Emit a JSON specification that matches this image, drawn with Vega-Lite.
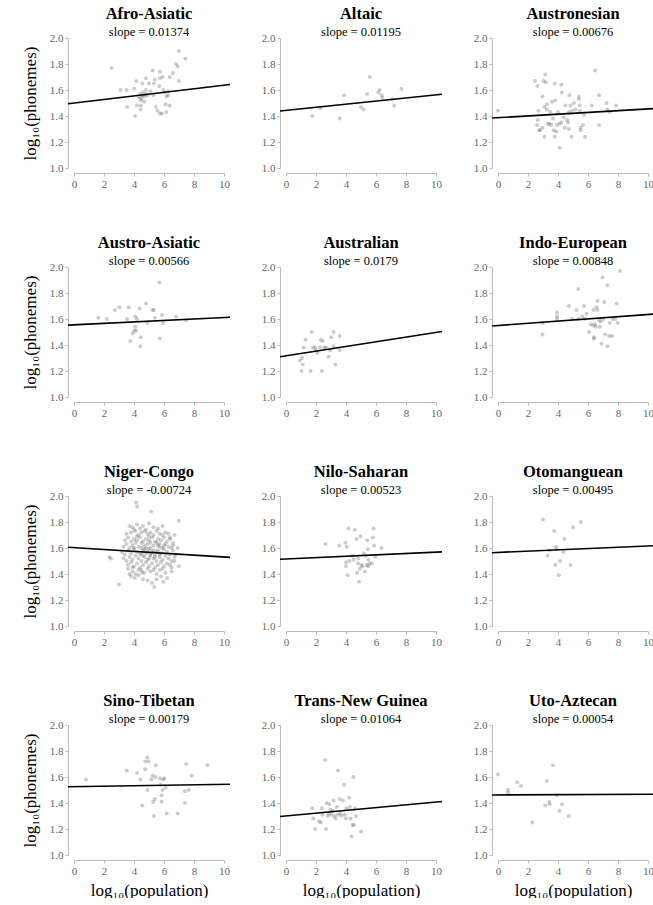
{
"$schema":"https://vega.github.io/schema/vega-lite/v6.json",
"padding":{"left":21,"top":6,"right":0,"bottom":0},
"datasets":{
"fit":[
{"f":"Afro-Asiatic","x":-0.4,"y":1.4945},{"f":"Afro-Asiatic","x":10.4,"y":1.6429},
{"f":"Altaic","x":-0.4,"y":1.4382},{"f":"Altaic","x":10.4,"y":1.5673},
{"f":"Austronesian","x":-0.4,"y":1.3843},{"f":"Austronesian","x":10.4,"y":1.4573},
{"f":"Austro-Asiatic","x":-0.4,"y":1.5527},{"f":"Austro-Asiatic","x":10.4,"y":1.6139},
{"f":"Australian","x":-0.4,"y":1.3098},{"f":"Australian","x":10.4,"y":1.5032},
{"f":"Indo-European","x":-0.4,"y":1.5466},{"f":"Indo-European","x":10.4,"y":1.6382},
{"f":"Niger-Congo","x":-0.4,"y":1.6059},{"f":"Niger-Congo","x":10.4,"y":1.5277},
{"f":"Nilo-Saharan","x":-0.4,"y":1.5139},{"f":"Nilo-Saharan","x":10.4,"y":1.5704},
{"f":"Otomanguean","x":-0.4,"y":1.564},{"f":"Otomanguean","x":10.4,"y":1.6175},
{"f":"Sino-Tibetan","x":-0.4,"y":1.5253},{"f":"Sino-Tibetan","x":10.4,"y":1.5446},
{"f":"Trans-New Guinea","x":-0.4,"y":1.2967},{"f":"Trans-New Guinea","x":10.4,"y":1.4117},
{"f":"Uto-Aztecan","x":-0.4,"y":1.4618},{"f":"Uto-Aztecan","x":10.4,"y":1.4676}
],
"pts":[
{"f":"Afro-Asiatic","x":2.5,"y":1.77},{"f":"Afro-Asiatic","x":3.1,"y":1.6},{"f":"Afro-Asiatic","x":3.5,"y":1.6},{"f":"Afro-Asiatic","x":3.54,"y":1.47},{"f":"Afro-Asiatic","x":4.0,"y":1.61},{"f":"Afro-Asiatic","x":4.15,"y":1.67},{"f":"Afro-Asiatic","x":4.19,"y":1.48},{"f":"Afro-Asiatic","x":4.08,"y":1.4},{"f":"Afro-Asiatic","x":4.45,"y":1.48},{"f":"Afro-Asiatic","x":4.45,"y":1.45},{"f":"Afro-Asiatic","x":4.56,"y":1.65},{"f":"Afro-Asiatic","x":4.8,"y":1.69},{"f":"Afro-Asiatic","x":4.8,"y":1.6},{"f":"Afro-Asiatic","x":5.0,"y":1.65},{"f":"Afro-Asiatic","x":5.24,"y":1.75},{"f":"Afro-Asiatic","x":5.33,"y":1.65},{"f":"Afro-Asiatic","x":5.39,"y":1.68},{"f":"Afro-Asiatic","x":5.72,"y":1.74},{"f":"Afro-Asiatic","x":5.46,"y":1.47},{"f":"Afro-Asiatic","x":5.68,"y":1.63},{"f":"Afro-Asiatic","x":5.72,"y":1.69},{"f":"Afro-Asiatic","x":5.9,"y":1.7},{"f":"Afro-Asiatic","x":5.57,"y":1.44},{"f":"Afro-Asiatic","x":5.72,"y":1.42},{"f":"Afro-Asiatic","x":5.87,"y":1.42},{"f":"Afro-Asiatic","x":6.16,"y":1.55},{"f":"Afro-Asiatic","x":6.16,"y":1.43},{"f":"Afro-Asiatic","x":6.38,"y":1.7},{"f":"Afro-Asiatic","x":6.27,"y":1.59},{"f":"Afro-Asiatic","x":6.27,"y":1.56},{"f":"Afro-Asiatic","x":6.11,"y":1.49},{"f":"Afro-Asiatic","x":6.38,"y":1.48},{"f":"Afro-Asiatic","x":6.99,"y":1.9},{"f":"Afro-Asiatic","x":6.81,"y":1.8},{"f":"Afro-Asiatic","x":6.92,"y":1.78},{"f":"Afro-Asiatic","x":6.99,"y":1.67},{"f":"Afro-Asiatic","x":7.42,"y":1.84},{"f":"Afro-Asiatic","x":6.59,"y":1.73},{"f":"Afro-Asiatic","x":4.3,"y":1.55},{"f":"Afro-Asiatic","x":4.4,"y":1.57},{"f":"Afro-Asiatic","x":4.5,"y":1.54},{"f":"Afro-Asiatic","x":4.6,"y":1.56},{"f":"Afro-Asiatic","x":4.5,"y":1.52},{"f":"Afro-Asiatic","x":4.7,"y":1.55},{"f":"Afro-Asiatic","x":4.8,"y":1.57},{"f":"Afro-Asiatic","x":4.6,"y":1.58},{"f":"Afro-Asiatic","x":4.4,"y":1.53},{"f":"Afro-Asiatic","x":4.9,"y":1.56},{"f":"Afro-Asiatic","x":4.7,"y":1.51},{"f":"Afro-Asiatic","x":5.94,"y":1.6},{"f":"Afro-Asiatic","x":6.05,"y":1.58},{"f":"Afro-Asiatic","x":5.1,"y":1.59},{"f":"Afro-Asiatic","x":5.3,"y":1.56},
{"f":"Altaic","x":1.75,"y":1.4},{"f":"Altaic","x":2.3,"y":1.46},{"f":"Altaic","x":3.58,"y":1.38},{"f":"Altaic","x":3.87,"y":1.56},{"f":"Altaic","x":4.99,"y":1.47},{"f":"Altaic","x":5.17,"y":1.45},{"f":"Altaic","x":5.4,"y":1.57},{"f":"Altaic","x":5.58,"y":1.7},{"f":"Altaic","x":6.15,"y":1.58},{"f":"Altaic","x":6.24,"y":1.6},{"f":"Altaic","x":6.38,"y":1.56},{"f":"Altaic","x":6.42,"y":1.54},{"f":"Altaic","x":7.1,"y":1.53},{"f":"Altaic","x":7.22,"y":1.48},{"f":"Altaic","x":7.7,"y":1.61},
{"f":"Austronesian","x":0,"y":1.44},{"f":"Austronesian","x":2.47,"y":1.67},{"f":"Austronesian","x":2.63,"y":1.63},{"f":"Austronesian","x":2.7,"y":1.44},{"f":"Austronesian","x":2.65,"y":1.37},{"f":"Austronesian","x":2.61,"y":1.33},{"f":"Austronesian","x":2.81,"y":1.29},{"f":"Austronesian","x":2.97,"y":1.55},{"f":"Austronesian","x":3.03,"y":1.67},{"f":"Austronesian","x":3.19,"y":1.66},{"f":"Austronesian","x":3.15,"y":1.72},{"f":"Austronesian","x":3.1,"y":1.47},{"f":"Austronesian","x":3.26,"y":1.45},{"f":"Austronesian","x":3.1,"y":1.24},{"f":"Austronesian","x":2.97,"y":1.31},{"f":"Austronesian","x":3.26,"y":1.49},{"f":"Austronesian","x":3.33,"y":1.34},{"f":"Austronesian","x":3.42,"y":1.34},{"f":"Austronesian","x":3.55,"y":1.33},{"f":"Austronesian","x":3.48,"y":1.43},{"f":"Austronesian","x":3.66,"y":1.38},{"f":"Austronesian","x":3.71,"y":1.29},{"f":"Austronesian","x":3.78,"y":1.65},{"f":"Austronesian","x":3.82,"y":1.52},{"f":"Austronesian","x":3.78,"y":1.24},{"f":"Austronesian","x":3.87,"y":1.28},{"f":"Austronesian","x":3.93,"y":1.33},{"f":"Austronesian","x":4.0,"y":1.43},{"f":"Austronesian","x":4.09,"y":1.34},{"f":"Austronesian","x":4.11,"y":1.155},{"f":"Austronesian","x":4.22,"y":1.64},{"f":"Austronesian","x":4.27,"y":1.58},{"f":"Austronesian","x":4.38,"y":1.39},{"f":"Austronesian","x":4.45,"y":1.31},{"f":"Austronesian","x":4.49,"y":1.48},{"f":"Austronesian","x":4.61,"y":1.37},{"f":"Austronesian","x":4.67,"y":1.35},{"f":"Austronesian","x":4.72,"y":1.43},{"f":"Austronesian","x":4.76,"y":1.56},{"f":"Austronesian","x":4.83,"y":1.48},{"f":"Austronesian","x":4.94,"y":1.44},{"f":"Austronesian","x":4.9,"y":1.24},{"f":"Austronesian","x":5.06,"y":1.5},{"f":"Austronesian","x":5.17,"y":1.45},{"f":"Austronesian","x":5.39,"y":1.55},{"f":"Austronesian","x":5.39,"y":1.53},{"f":"Austronesian","x":5.44,"y":1.48},{"f":"Austronesian","x":5.46,"y":1.44},{"f":"Austronesian","x":5.51,"y":1.31},{"f":"Austronesian","x":5.51,"y":1.29},{"f":"Austronesian","x":5.66,"y":1.33},{"f":"Austronesian","x":5.73,"y":1.41},{"f":"Austronesian","x":5.8,"y":1.24},{"f":"Austronesian","x":6.25,"y":1.48},{"f":"Austronesian","x":6.47,"y":1.75},{"f":"Austronesian","x":6.74,"y":1.56},{"f":"Austronesian","x":6.74,"y":1.33},{"f":"Austronesian","x":7.24,"y":1.5},{"f":"Austronesian","x":7.3,"y":1.45},{"f":"Austronesian","x":7.46,"y":1.43},{"f":"Austronesian","x":7.87,"y":1.48},{"f":"Austronesian","x":4.72,"y":1.3},{"f":"Austronesian","x":4.22,"y":1.35},{"f":"Austronesian","x":3.6,"y":1.51},{"f":"Austronesian","x":2.74,"y":1.29},
{"f":"Austro-Asiatic","x":1.62,"y":1.61},{"f":"Austro-Asiatic","x":2.18,"y":1.6},{"f":"Austro-Asiatic","x":2.73,"y":1.67},{"f":"Austro-Asiatic","x":3.03,"y":1.69},{"f":"Austro-Asiatic","x":3.54,"y":1.6},{"f":"Austro-Asiatic","x":3.65,"y":1.69},{"f":"Austro-Asiatic","x":3.76,"y":1.43},{"f":"Austro-Asiatic","x":3.91,"y":1.49},{"f":"Austro-Asiatic","x":4.02,"y":1.51},{"f":"Austro-Asiatic","x":4.08,"y":1.54},{"f":"Austro-Asiatic","x":4.08,"y":1.62},{"f":"Austro-Asiatic","x":4.15,"y":1.51},{"f":"Austro-Asiatic","x":4.19,"y":1.6},{"f":"Austro-Asiatic","x":4.37,"y":1.68},{"f":"Austro-Asiatic","x":4.41,"y":1.39},{"f":"Austro-Asiatic","x":4.45,"y":1.46},{"f":"Austro-Asiatic","x":4.8,"y":1.72},{"f":"Austro-Asiatic","x":4.89,"y":1.57},{"f":"Austro-Asiatic","x":5.24,"y":1.67},{"f":"Austro-Asiatic","x":5.33,"y":1.67},{"f":"Austro-Asiatic","x":5.39,"y":1.61},{"f":"Austro-Asiatic","x":5.68,"y":1.88},{"f":"Austro-Asiatic","x":5.72,"y":1.45},{"f":"Austro-Asiatic","x":5.87,"y":1.63},{"f":"Austro-Asiatic","x":5.94,"y":1.57},{"f":"Austro-Asiatic","x":6.81,"y":1.62},{"f":"Austro-Asiatic","x":7.47,"y":1.59},
{"f":"Australian","x":0.93,"y":1.28},{"f":"Australian","x":1.03,"y":1.2},{"f":"Australian","x":1.12,"y":1.25},{"f":"Australian","x":1.07,"y":1.3},{"f":"Australian","x":1.18,"y":1.38},{"f":"Australian","x":1.3,"y":1.44},{"f":"Australian","x":1.64,"y":1.2},{"f":"Australian","x":1.71,"y":1.5},{"f":"Australian","x":1.8,"y":1.38},{"f":"Australian","x":1.94,"y":1.38},{"f":"Australian","x":2.1,"y":1.34},{"f":"Australian","x":2.26,"y":1.38},{"f":"Australian","x":2.32,"y":1.44},{"f":"Australian","x":2.39,"y":1.2},{"f":"Australian","x":2.44,"y":1.43},{"f":"Australian","x":2.55,"y":1.38},{"f":"Australian","x":2.67,"y":1.38},{"f":"Australian","x":2.85,"y":1.31},{"f":"Australian","x":2.94,"y":1.36},{"f":"Australian","x":3.01,"y":1.46},{"f":"Australian","x":3.17,"y":1.5},{"f":"Australian","x":3.17,"y":1.39},{"f":"Australian","x":3.28,"y":1.25},{"f":"Australian","x":3.58,"y":1.47},{"f":"Australian","x":3.58,"y":1.36},{"f":"Australian","x":1.98,"y":1.36},
{"f":"Indo-European","x":2.97,"y":1.48},{"f":"Indo-European","x":2.97,"y":1.57},{"f":"Indo-European","x":3.93,"y":1.65},{"f":"Indo-European","x":3.93,"y":1.62},{"f":"Indo-European","x":3.93,"y":1.6},{"f":"Indo-European","x":4.72,"y":1.7},{"f":"Indo-European","x":4.94,"y":1.6},{"f":"Indo-European","x":5.24,"y":1.67},{"f":"Indo-European","x":5.35,"y":1.83},{"f":"Indo-European","x":5.35,"y":1.6},{"f":"Indo-European","x":5.62,"y":1.62},{"f":"Indo-European","x":5.73,"y":1.7},{"f":"Indo-European","x":5.8,"y":1.6},{"f":"Indo-European","x":5.91,"y":1.64},{"f":"Indo-European","x":6.07,"y":1.5},{"f":"Indo-European","x":6.18,"y":1.56},{"f":"Indo-European","x":6.34,"y":1.55},{"f":"Indo-European","x":6.36,"y":1.67},{"f":"Indo-European","x":6.4,"y":1.46},{"f":"Indo-European","x":6.4,"y":1.45},{"f":"Indo-European","x":6.47,"y":1.56},{"f":"Indo-European","x":6.52,"y":1.54},{"f":"Indo-European","x":6.56,"y":1.69},{"f":"Indo-European","x":6.63,"y":1.74},{"f":"Indo-European","x":6.63,"y":1.67},{"f":"Indo-European","x":6.74,"y":1.59},{"f":"Indo-European","x":6.79,"y":1.54},{"f":"Indo-European","x":6.85,"y":1.58},{"f":"Indo-European","x":6.9,"y":1.41},{"f":"Indo-European","x":6.97,"y":1.92},{"f":"Indo-European","x":7.01,"y":1.6},{"f":"Indo-European","x":7.08,"y":1.73},{"f":"Indo-European","x":7.15,"y":1.48},{"f":"Indo-European","x":7.3,"y":1.86},{"f":"Indo-European","x":7.3,"y":1.39},{"f":"Indo-European","x":7.42,"y":1.47},{"f":"Indo-European","x":7.46,"y":1.57},{"f":"Indo-European","x":7.6,"y":1.47},{"f":"Indo-European","x":7.64,"y":1.6},{"f":"Indo-European","x":7.82,"y":1.6},{"f":"Indo-European","x":7.91,"y":1.72},{"f":"Indo-European","x":7.98,"y":1.57},{"f":"Indo-European","x":8.13,"y":1.97},
{"f":"Niger-Congo","x":2.35,"y":1.53},{"f":"Niger-Congo","x":2.46,"y":1.52},{"f":"Niger-Congo","x":3.0,"y":1.32},{"f":"Niger-Congo","x":4.14,"y":1.95},{"f":"Niger-Congo","x":4.21,"y":1.92},{"f":"Niger-Congo","x":5.15,"y":1.88},{"f":"Niger-Congo","x":6.99,"y":1.81},{"f":"Niger-Congo","x":6.99,"y":1.46},{"f":"Niger-Congo","x":5.35,"y":1.3},{"f":"Niger-Congo","x":5.96,"y":1.34},{"f":"Niger-Congo","x":6.51,"y":1.42},{"f":"Niger-Congo","x":4.54,"y":1.41},{"f":"Niger-Congo","x":3.6,"y":1.44},{"f":"Niger-Congo","x":3.7,"y":1.4},{"f":"Niger-Congo","x":3.8,"y":1.38},{"f":"Niger-Congo","x":3.9,"y":1.45},{"f":"Niger-Congo","x":4.05,"y":1.37},{"f":"Niger-Congo","x":4.3,"y":1.39},{"f":"Niger-Congo","x":4.6,"y":1.36},{"f":"Niger-Congo","x":4.9,"y":1.35},{"f":"Niger-Congo","x":5.2,"y":1.33},{"f":"Niger-Congo","x":5.5,"y":1.36},{"f":"Niger-Congo","x":5.8,"y":1.38},{"f":"Niger-Congo","x":6.2,"y":1.37},{"f":"Niger-Congo","x":6.5,"y":1.45},{"f":"Niger-Congo","x":6.7,"y":1.5},{"f":"Niger-Congo","x":6.8,"y":1.55},{"f":"Niger-Congo","x":6.9,"y":1.6},{"f":"Niger-Congo","x":6.6,"y":1.64},{"f":"Niger-Congo","x":6.4,"y":1.68},{"f":"Niger-Congo","x":6.7,"y":1.7},
{"f":"Niger-Congo","x":3.7,"y":1.77},{"f":"Niger-Congo","x":3.9,"y":1.76},{"f":"Niger-Congo","x":4.2,"y":1.78},{"f":"Niger-Congo","x":4.4,"y":1.75},{"f":"Niger-Congo","x":4.6,"y":1.77},{"f":"Niger-Congo","x":5.0,"y":1.79},{"f":"Niger-Congo","x":5.3,"y":1.76},{"f":"Niger-Congo","x":5.6,"y":1.75},{"f":"Niger-Congo","x":5.9,"y":1.77},{"f":"Niger-Congo","x":4.0,"y":1.74},{"f":"Niger-Congo","x":4.8,"y":1.74},
{"f":"Niger-Congo","x":3.5,"y":1.71},{"f":"Niger-Congo","x":3.8,"y":1.72},{"f":"Niger-Congo","x":4.1,"y":1.73},{"f":"Niger-Congo","x":4.3,"y":1.7},{"f":"Niger-Congo","x":4.5,"y":1.72},{"f":"Niger-Congo","x":4.7,"y":1.73},{"f":"Niger-Congo","x":4.9,"y":1.71},{"f":"Niger-Congo","x":5.1,"y":1.72},{"f":"Niger-Congo","x":5.3,"y":1.7},{"f":"Niger-Congo","x":5.5,"y":1.73},{"f":"Niger-Congo","x":5.7,"y":1.71},{"f":"Niger-Congo","x":5.9,"y":1.7},{"f":"Niger-Congo","x":6.1,"y":1.72},{"f":"Niger-Congo","x":6.3,"y":1.71},{"f":"Niger-Congo","x":4.2,"y":1.69},{"f":"Niger-Congo","x":5.0,"y":1.69},
{"f":"Niger-Congo","x":3.4,"y":1.66},{"f":"Niger-Congo","x":3.6,"y":1.68},{"f":"Niger-Congo","x":3.8,"y":1.65},{"f":"Niger-Congo","x":4.0,"y":1.67},{"f":"Niger-Congo","x":4.2,"y":1.66},{"f":"Niger-Congo","x":4.4,"y":1.68},{"f":"Niger-Congo","x":4.6,"y":1.65},{"f":"Niger-Congo","x":4.8,"y":1.67},{"f":"Niger-Congo","x":5.0,"y":1.66},{"f":"Niger-Congo","x":5.2,"y":1.68},{"f":"Niger-Congo","x":5.4,"y":1.65},{"f":"Niger-Congo","x":5.6,"y":1.67},{"f":"Niger-Congo","x":5.8,"y":1.66},{"f":"Niger-Congo","x":6.0,"y":1.68},{"f":"Niger-Congo","x":6.2,"y":1.65},{"f":"Niger-Congo","x":6.4,"y":1.67},{"f":"Niger-Congo","x":6.6,"y":1.62},{"f":"Niger-Congo","x":4.5,"y":1.64},{"f":"Niger-Congo","x":5.1,"y":1.64},{"f":"Niger-Congo","x":5.7,"y":1.63},
{"f":"Niger-Congo","x":3.3,"y":1.61},{"f":"Niger-Congo","x":3.5,"y":1.63},{"f":"Niger-Congo","x":3.7,"y":1.6},{"f":"Niger-Congo","x":3.9,"y":1.62},{"f":"Niger-Congo","x":4.1,"y":1.64},{"f":"Niger-Congo","x":4.3,"y":1.61},{"f":"Niger-Congo","x":4.5,"y":1.6},{"f":"Niger-Congo","x":4.7,"y":1.62},{"f":"Niger-Congo","x":4.9,"y":1.63},{"f":"Niger-Congo","x":5.1,"y":1.6},{"f":"Niger-Congo","x":5.3,"y":1.62},{"f":"Niger-Congo","x":5.5,"y":1.64},{"f":"Niger-Congo","x":5.7,"y":1.61},{"f":"Niger-Congo","x":5.9,"y":1.6},{"f":"Niger-Congo","x":6.1,"y":1.63},{"f":"Niger-Congo","x":6.3,"y":1.61},{"f":"Niger-Congo","x":6.5,"y":1.6},{"f":"Niger-Congo","x":4.0,"y":1.6},{"f":"Niger-Congo","x":4.8,"y":1.6},{"f":"Niger-Congo","x":5.6,"y":1.62},{"f":"Niger-Congo","x":6.0,"y":1.62},
{"f":"Niger-Congo","x":3.2,"y":1.57},{"f":"Niger-Congo","x":3.4,"y":1.55},{"f":"Niger-Congo","x":3.6,"y":1.58},{"f":"Niger-Congo","x":3.8,"y":1.56},{"f":"Niger-Congo","x":4.0,"y":1.59},{"f":"Niger-Congo","x":4.2,"y":1.57},{"f":"Niger-Congo","x":4.4,"y":1.55},{"f":"Niger-Congo","x":4.6,"y":1.58},{"f":"Niger-Congo","x":4.8,"y":1.56},{"f":"Niger-Congo","x":5.0,"y":1.59},{"f":"Niger-Congo","x":5.2,"y":1.57},{"f":"Niger-Congo","x":5.4,"y":1.55},{"f":"Niger-Congo","x":5.6,"y":1.58},{"f":"Niger-Congo","x":5.8,"y":1.56},{"f":"Niger-Congo","x":6.0,"y":1.59},{"f":"Niger-Congo","x":6.2,"y":1.57},{"f":"Niger-Congo","x":6.4,"y":1.55},{"f":"Niger-Congo","x":6.6,"y":1.58},{"f":"Niger-Congo","x":4.9,"y":1.57},{"f":"Niger-Congo","x":5.1,"y":1.55},{"f":"Niger-Congo","x":4.5,"y":1.56},{"f":"Niger-Congo","x":5.3,"y":1.58},{"f":"Niger-Congo","x":5.5,"y":1.57},{"f":"Niger-Congo","x":4.7,"y":1.59},{"f":"Niger-Congo","x":5.7,"y":1.55},
{"f":"Niger-Congo","x":3.3,"y":1.52},{"f":"Niger-Congo","x":3.5,"y":1.5},{"f":"Niger-Congo","x":3.7,"y":1.53},{"f":"Niger-Congo","x":3.9,"y":1.51},{"f":"Niger-Congo","x":4.1,"y":1.54},{"f":"Niger-Congo","x":4.3,"y":1.52},{"f":"Niger-Congo","x":4.5,"y":1.5},{"f":"Niger-Congo","x":4.7,"y":1.53},{"f":"Niger-Congo","x":4.9,"y":1.51},{"f":"Niger-Congo","x":5.1,"y":1.54},{"f":"Niger-Congo","x":5.3,"y":1.52},{"f":"Niger-Congo","x":5.5,"y":1.5},{"f":"Niger-Congo","x":5.7,"y":1.53},{"f":"Niger-Congo","x":5.9,"y":1.51},{"f":"Niger-Congo","x":6.1,"y":1.54},{"f":"Niger-Congo","x":6.3,"y":1.52},{"f":"Niger-Congo","x":6.5,"y":1.5},{"f":"Niger-Congo","x":4.6,"y":1.54},{"f":"Niger-Congo","x":5.0,"y":1.52},{"f":"Niger-Congo","x":5.4,"y":1.53},{"f":"Niger-Congo","x":6.7,"y":1.53},
{"f":"Niger-Congo","x":3.6,"y":1.47},{"f":"Niger-Congo","x":3.8,"y":1.49},{"f":"Niger-Congo","x":4.0,"y":1.46},{"f":"Niger-Congo","x":4.2,"y":1.48},{"f":"Niger-Congo","x":4.4,"y":1.45},{"f":"Niger-Congo","x":4.6,"y":1.47},{"f":"Niger-Congo","x":4.8,"y":1.49},{"f":"Niger-Congo","x":5.0,"y":1.46},{"f":"Niger-Congo","x":5.2,"y":1.48},{"f":"Niger-Congo","x":5.4,"y":1.45},{"f":"Niger-Congo","x":5.6,"y":1.47},{"f":"Niger-Congo","x":5.8,"y":1.49},{"f":"Niger-Congo","x":6.0,"y":1.46},{"f":"Niger-Congo","x":6.2,"y":1.48},{"f":"Niger-Congo","x":6.4,"y":1.47},{"f":"Niger-Congo","x":4.9,"y":1.44},{"f":"Niger-Congo","x":5.3,"y":1.43},
{"f":"Niger-Congo","x":3.9,"y":1.42},{"f":"Niger-Congo","x":4.1,"y":1.4},{"f":"Niger-Congo","x":4.3,"y":1.43},{"f":"Niger-Congo","x":4.7,"y":1.41},{"f":"Niger-Congo","x":5.1,"y":1.42},{"f":"Niger-Congo","x":5.5,"y":1.4},{"f":"Niger-Congo","x":5.7,"y":1.43},{"f":"Niger-Congo","x":6.1,"y":1.41},{"f":"Niger-Congo","x":4.5,"y":1.43},{"f":"Niger-Congo","x":5.9,"y":1.44},
{"f":"Nilo-Saharan","x":2.63,"y":1.63},{"f":"Nilo-Saharan","x":3.55,"y":1.62},{"f":"Nilo-Saharan","x":3.96,"y":1.64},{"f":"Nilo-Saharan","x":4.0,"y":1.46},{"f":"Nilo-Saharan","x":4.0,"y":1.49},{"f":"Nilo-Saharan","x":4.05,"y":1.61},{"f":"Nilo-Saharan","x":4.12,"y":1.39},{"f":"Nilo-Saharan","x":4.16,"y":1.75},{"f":"Nilo-Saharan","x":4.23,"y":1.5},{"f":"Nilo-Saharan","x":4.42,"y":1.54},{"f":"Nilo-Saharan","x":4.51,"y":1.51},{"f":"Nilo-Saharan","x":4.58,"y":1.74},{"f":"Nilo-Saharan","x":4.69,"y":1.67},{"f":"Nilo-Saharan","x":4.74,"y":1.41},{"f":"Nilo-Saharan","x":4.81,"y":1.52},{"f":"Nilo-Saharan","x":4.81,"y":1.48},{"f":"Nilo-Saharan","x":4.87,"y":1.34},{"f":"Nilo-Saharan","x":4.92,"y":1.44},{"f":"Nilo-Saharan","x":4.97,"y":1.69},{"f":"Nilo-Saharan","x":5.03,"y":1.47},{"f":"Nilo-Saharan","x":5.1,"y":1.46},{"f":"Nilo-Saharan","x":5.19,"y":1.56},{"f":"Nilo-Saharan","x":5.26,"y":1.42},{"f":"Nilo-Saharan","x":5.33,"y":1.54},{"f":"Nilo-Saharan","x":5.42,"y":1.66},{"f":"Nilo-Saharan","x":5.45,"y":1.59},{"f":"Nilo-Saharan","x":5.49,"y":1.51},{"f":"Nilo-Saharan","x":5.49,"y":1.46},{"f":"Nilo-Saharan","x":5.56,"y":1.48},{"f":"Nilo-Saharan","x":5.72,"y":1.48},{"f":"Nilo-Saharan","x":5.79,"y":1.68},{"f":"Nilo-Saharan","x":5.84,"y":1.75},{"f":"Nilo-Saharan","x":5.88,"y":1.62},{"f":"Nilo-Saharan","x":5.95,"y":1.53},{"f":"Nilo-Saharan","x":6.36,"y":1.6},{"f":"Nilo-Saharan","x":5.38,"y":1.47},
{"f":"Otomanguean","x":3.0,"y":1.82},{"f":"Otomanguean","x":3.3,"y":1.54},{"f":"Otomanguean","x":3.45,"y":1.58},{"f":"Otomanguean","x":3.75,"y":1.73},{"f":"Otomanguean","x":3.82,"y":1.47},{"f":"Otomanguean","x":3.86,"y":1.61},{"f":"Otomanguean","x":3.91,"y":1.59},{"f":"Otomanguean","x":4.05,"y":1.39},{"f":"Otomanguean","x":4.14,"y":1.5},{"f":"Otomanguean","x":4.36,"y":1.57},{"f":"Otomanguean","x":4.43,"y":1.67},{"f":"Otomanguean","x":4.84,"y":1.47},{"f":"Otomanguean","x":5.0,"y":1.76},{"f":"Otomanguean","x":5.52,"y":1.8},
{"f":"Sino-Tibetan","x":0.8,"y":1.58},{"f":"Sino-Tibetan","x":3.52,"y":1.65},{"f":"Sino-Tibetan","x":4.2,"y":1.63},{"f":"Sino-Tibetan","x":4.43,"y":1.58},{"f":"Sino-Tibetan","x":4.55,"y":1.38},{"f":"Sino-Tibetan","x":4.75,"y":1.66},{"f":"Sino-Tibetan","x":4.75,"y":1.72},{"f":"Sino-Tibetan","x":4.89,"y":1.75},{"f":"Sino-Tibetan","x":4.98,"y":1.72},{"f":"Sino-Tibetan","x":4.89,"y":1.5},{"f":"Sino-Tibetan","x":5.16,"y":1.58},{"f":"Sino-Tibetan","x":5.23,"y":1.61},{"f":"Sino-Tibetan","x":5.27,"y":1.41},{"f":"Sino-Tibetan","x":5.32,"y":1.3},{"f":"Sino-Tibetan","x":5.39,"y":1.43},{"f":"Sino-Tibetan","x":5.43,"y":1.6},{"f":"Sino-Tibetan","x":5.45,"y":1.69},{"f":"Sino-Tibetan","x":5.73,"y":1.59},{"f":"Sino-Tibetan","x":5.77,"y":1.54},{"f":"Sino-Tibetan","x":5.84,"y":1.46},{"f":"Sino-Tibetan","x":5.84,"y":1.41},{"f":"Sino-Tibetan","x":5.91,"y":1.5},{"f":"Sino-Tibetan","x":5.95,"y":1.58},{"f":"Sino-Tibetan","x":6.02,"y":1.59},{"f":"Sino-Tibetan","x":6.11,"y":1.52},{"f":"Sino-Tibetan","x":6.18,"y":1.32},{"f":"Sino-Tibetan","x":6.91,"y":1.32},{"f":"Sino-Tibetan","x":7.39,"y":1.49},{"f":"Sino-Tibetan","x":7.39,"y":1.4},{"f":"Sino-Tibetan","x":7.48,"y":1.7},{"f":"Sino-Tibetan","x":7.66,"y":1.5},{"f":"Sino-Tibetan","x":7.84,"y":1.61},{"f":"Sino-Tibetan","x":8.91,"y":1.69},
{"f":"Trans-New Guinea","x":1.75,"y":1.36},{"f":"Trans-New Guinea","x":1.82,"y":1.28},{"f":"Trans-New Guinea","x":1.94,"y":1.2},{"f":"Trans-New Guinea","x":2.62,"y":1.73},{"f":"Trans-New Guinea","x":2.21,"y":1.26},{"f":"Trans-New Guinea","x":2.32,"y":1.25},{"f":"Trans-New Guinea","x":2.39,"y":1.36},{"f":"Trans-New Guinea","x":2.44,"y":1.31},{"f":"Trans-New Guinea","x":2.67,"y":1.2},{"f":"Trans-New Guinea","x":2.71,"y":1.4},{"f":"Trans-New Guinea","x":2.78,"y":1.3},{"f":"Trans-New Guinea","x":2.85,"y":1.32},{"f":"Trans-New Guinea","x":2.89,"y":1.39},{"f":"Trans-New Guinea","x":2.96,"y":1.35},{"f":"Trans-New Guinea","x":3.01,"y":1.31},{"f":"Trans-New Guinea","x":3.12,"y":1.34},{"f":"Trans-New Guinea","x":3.17,"y":1.42},{"f":"Trans-New Guinea","x":3.23,"y":1.3},{"f":"Trans-New Guinea","x":3.3,"y":1.28},{"f":"Trans-New Guinea","x":3.39,"y":1.37},{"f":"Trans-New Guinea","x":3.46,"y":1.65},{"f":"Trans-New Guinea","x":3.46,"y":1.31},{"f":"Trans-New Guinea","x":3.58,"y":1.43},{"f":"Trans-New Guinea","x":3.62,"y":1.32},{"f":"Trans-New Guinea","x":3.69,"y":1.3},{"f":"Trans-New Guinea","x":3.8,"y":1.42},{"f":"Trans-New Guinea","x":3.87,"y":1.54},{"f":"Trans-New Guinea","x":3.92,"y":1.31},{"f":"Trans-New Guinea","x":3.99,"y":1.28},{"f":"Trans-New Guinea","x":4.03,"y":1.36},{"f":"Trans-New Guinea","x":4.21,"y":1.44},{"f":"Trans-New Guinea","x":4.26,"y":1.37},{"f":"Trans-New Guinea","x":4.3,"y":1.28},{"f":"Trans-New Guinea","x":4.37,"y":1.145},{"f":"Trans-New Guinea","x":4.44,"y":1.23},{"f":"Trans-New Guinea","x":4.49,"y":1.6},{"f":"Trans-New Guinea","x":4.53,"y":1.23},{"f":"Trans-New Guinea","x":4.6,"y":1.36},{"f":"Trans-New Guinea","x":4.67,"y":1.3},{"f":"Trans-New Guinea","x":5.01,"y":1.18},
{"f":"Uto-Aztecan","x":0,"y":1.62},{"f":"Uto-Aztecan","x":0.67,"y":1.5},{"f":"Uto-Aztecan","x":0.67,"y":1.48},{"f":"Uto-Aztecan","x":1.28,"y":1.56},{"f":"Uto-Aztecan","x":1.53,"y":1.53},{"f":"Uto-Aztecan","x":2.29,"y":1.25},{"f":"Uto-Aztecan","x":3.15,"y":1.38},{"f":"Uto-Aztecan","x":3.26,"y":1.57},{"f":"Uto-Aztecan","x":3.42,"y":1.41},{"f":"Uto-Aztecan","x":3.44,"y":1.39},{"f":"Uto-Aztecan","x":3.66,"y":1.69},{"f":"Uto-Aztecan","x":3.93,"y":1.46},{"f":"Uto-Aztecan","x":4.09,"y":1.34},{"f":"Uto-Aztecan","x":4.27,"y":1.39},{"f":"Uto-Aztecan","x":4.72,"y":1.3}
]},
"columns":3,
"bounds":"flush",
"spacing":{"row":99,"column":62},
"resolve":{"scale":{"x":"independent","y":"independent"}},
"config":{
"view":{"stroke":null},
"font":"Liberation Serif",
"axis":{"grid":false,"labelOverlap":false,"labelFlush":false,"domainColor":"#bbbbbb","tickColor":"#bbbbbb","labelColor":"#666666","labelFont":"Liberation Serif","labelFontSize":11,"tickSize":3,"titleFont":"Liberation Serif","titleFontSize":17,"titleFontWeight":"normal","titleColor":"#000000"},
"axisX":{"offset":5,"labelPadding":2,"titlePadding":6},
"axisY":{"offset":6,"labelPadding":2,"titlePadding":10},
"title":{"font":"Liberation Serif","fontSize":16.5,"fontWeight":"bold","color":"#000000","subtitleFont":"Liberation Serif","subtitleFontSize":12.5,"subtitleColor":"#000000","offset":-6,"subtitlePadding":3,"frame":"group","anchor":"middle"}
},
"concat":[
{"width":150,"height":130,"title":{"text":"Afro-Asiatic","subtitle":"slope = 0.01374"},"layer":[
{"data":{"name":"pts"},"transform":[{"filter":"datum.f==='Afro-Asiatic'"}],"mark":{"type":"circle","size":16,"color":"#555555","opacity":0.3},"encoding":{"x":{"field":"x","type":"quantitative","scale":{"domain":[0,10],"nice":false,"zero":false},"axis":{"title":null,"labelOverlap":false,"tickCount":20,"format":"d","values":[0,2,4,6,8,10]}},"y":{"field":"y","type":"quantitative","scale":{"domain":[1,2],"nice":false,"zero":false},"axis":{"title":"log₁₀(phonemes)","labelOverlap":false,"tickCount":20,"values":[1,1.2,1.4,1.6,1.8,2],"format":".1f"}}}},
{"data":{"name":"fit"},"transform":[{"filter":"datum.f==='Afro-Asiatic'"}],"mark":{"type":"line","color":"#000000","strokeWidth":1.6},"encoding":{"x":{"field":"x","type":"quantitative"},"y":{"field":"y","type":"quantitative"}}}]},
{"width":150,"height":130,"title":{"text":"Altaic","subtitle":"slope = 0.01195"},"layer":[
{"data":{"name":"pts"},"transform":[{"filter":"datum.f==='Altaic'"}],"mark":{"type":"circle","size":16,"color":"#555555","opacity":0.3},"encoding":{"x":{"field":"x","type":"quantitative","scale":{"domain":[0,10],"nice":false,"zero":false},"axis":{"title":null,"labelOverlap":false,"tickCount":20,"format":"d","values":[0,2,4,6,8,10]}},"y":{"field":"y","type":"quantitative","scale":{"domain":[1,2],"nice":false,"zero":false},"axis":{"title":null,"labelOverlap":false,"tickCount":20,"values":[1,1.2,1.4,1.6,1.8,2],"format":".1f"}}}},
{"data":{"name":"fit"},"transform":[{"filter":"datum.f==='Altaic'"}],"mark":{"type":"line","color":"#000000","strokeWidth":1.6},"encoding":{"x":{"field":"x","type":"quantitative"},"y":{"field":"y","type":"quantitative"}}}]},
{"width":150,"height":130,"title":{"text":"Austronesian","subtitle":"slope = 0.00676"},"layer":[
{"data":{"name":"pts"},"transform":[{"filter":"datum.f==='Austronesian'"}],"mark":{"type":"circle","size":16,"color":"#555555","opacity":0.3},"encoding":{"x":{"field":"x","type":"quantitative","scale":{"domain":[0,10],"nice":false,"zero":false},"axis":{"title":null,"labelOverlap":false,"tickCount":20,"format":"d","values":[0,2,4,6,8,10]}},"y":{"field":"y","type":"quantitative","scale":{"domain":[1,2],"nice":false,"zero":false},"axis":{"title":null,"labelOverlap":false,"tickCount":20,"values":[1,1.2,1.4,1.6,1.8,2],"format":".1f"}}}},
{"data":{"name":"fit"},"transform":[{"filter":"datum.f==='Austronesian'"}],"mark":{"type":"line","color":"#000000","strokeWidth":1.6},"encoding":{"x":{"field":"x","type":"quantitative"},"y":{"field":"y","type":"quantitative"}}}]},
{"width":150,"height":130,"title":{"text":"Austro-Asiatic","subtitle":"slope = 0.00566"},"layer":[
{"data":{"name":"pts"},"transform":[{"filter":"datum.f==='Austro-Asiatic'"}],"mark":{"type":"circle","size":16,"color":"#555555","opacity":0.3},"encoding":{"x":{"field":"x","type":"quantitative","scale":{"domain":[0,10],"nice":false,"zero":false},"axis":{"title":null,"labelOverlap":false,"tickCount":20,"format":"d","values":[0,2,4,6,8,10]}},"y":{"field":"y","type":"quantitative","scale":{"domain":[1,2],"nice":false,"zero":false},"axis":{"title":"log₁₀(phonemes)","labelOverlap":false,"tickCount":20,"values":[1,1.2,1.4,1.6,1.8,2],"format":".1f"}}}},
{"data":{"name":"fit"},"transform":[{"filter":"datum.f==='Austro-Asiatic'"}],"mark":{"type":"line","color":"#000000","strokeWidth":1.6},"encoding":{"x":{"field":"x","type":"quantitative"},"y":{"field":"y","type":"quantitative"}}}]},
{"width":150,"height":130,"title":{"text":"Australian","subtitle":"slope = 0.0179"},"layer":[
{"data":{"name":"pts"},"transform":[{"filter":"datum.f==='Australian'"}],"mark":{"type":"circle","size":16,"color":"#555555","opacity":0.3},"encoding":{"x":{"field":"x","type":"quantitative","scale":{"domain":[0,10],"nice":false,"zero":false},"axis":{"title":null,"labelOverlap":false,"tickCount":20,"format":"d","values":[0,2,4,6,8,10]}},"y":{"field":"y","type":"quantitative","scale":{"domain":[1,2],"nice":false,"zero":false},"axis":{"title":null,"labelOverlap":false,"tickCount":20,"values":[1,1.2,1.4,1.6,1.8,2],"format":".1f"}}}},
{"data":{"name":"fit"},"transform":[{"filter":"datum.f==='Australian'"}],"mark":{"type":"line","color":"#000000","strokeWidth":1.6},"encoding":{"x":{"field":"x","type":"quantitative"},"y":{"field":"y","type":"quantitative"}}}]},
{"width":150,"height":130,"title":{"text":"Indo-European","subtitle":"slope = 0.00848"},"layer":[
{"data":{"name":"pts"},"transform":[{"filter":"datum.f==='Indo-European'"}],"mark":{"type":"circle","size":16,"color":"#555555","opacity":0.3},"encoding":{"x":{"field":"x","type":"quantitative","scale":{"domain":[0,10],"nice":false,"zero":false},"axis":{"title":null,"labelOverlap":false,"tickCount":20,"format":"d","values":[0,2,4,6,8,10]}},"y":{"field":"y","type":"quantitative","scale":{"domain":[1,2],"nice":false,"zero":false},"axis":{"title":null,"labelOverlap":false,"tickCount":20,"values":[1,1.2,1.4,1.6,1.8,2],"format":".1f"}}}},
{"data":{"name":"fit"},"transform":[{"filter":"datum.f==='Indo-European'"}],"mark":{"type":"line","color":"#000000","strokeWidth":1.6},"encoding":{"x":{"field":"x","type":"quantitative"},"y":{"field":"y","type":"quantitative"}}}]},
{"width":150,"height":130,"title":{"text":"Niger-Congo","subtitle":"slope = -0.00724"},"layer":[
{"data":{"name":"pts"},"transform":[{"filter":"datum.f==='Niger-Congo'"}],"mark":{"type":"circle","size":16,"color":"#555555","opacity":0.3},"encoding":{"x":{"field":"x","type":"quantitative","scale":{"domain":[0,10],"nice":false,"zero":false},"axis":{"title":null,"labelOverlap":false,"tickCount":20,"format":"d","values":[0,2,4,6,8,10]}},"y":{"field":"y","type":"quantitative","scale":{"domain":[1,2],"nice":false,"zero":false},"axis":{"title":"log₁₀(phonemes)","labelOverlap":false,"tickCount":20,"values":[1,1.2,1.4,1.6,1.8,2],"format":".1f"}}}},
{"data":{"name":"fit"},"transform":[{"filter":"datum.f==='Niger-Congo'"}],"mark":{"type":"line","color":"#000000","strokeWidth":1.6},"encoding":{"x":{"field":"x","type":"quantitative"},"y":{"field":"y","type":"quantitative"}}}]},
{"width":150,"height":130,"title":{"text":"Nilo-Saharan","subtitle":"slope = 0.00523"},"layer":[
{"data":{"name":"pts"},"transform":[{"filter":"datum.f==='Nilo-Saharan'"}],"mark":{"type":"circle","size":16,"color":"#555555","opacity":0.3},"encoding":{"x":{"field":"x","type":"quantitative","scale":{"domain":[0,10],"nice":false,"zero":false},"axis":{"title":null,"labelOverlap":false,"tickCount":20,"format":"d","values":[0,2,4,6,8,10]}},"y":{"field":"y","type":"quantitative","scale":{"domain":[1,2],"nice":false,"zero":false},"axis":{"title":null,"labelOverlap":false,"tickCount":20,"values":[1,1.2,1.4,1.6,1.8,2],"format":".1f"}}}},
{"data":{"name":"fit"},"transform":[{"filter":"datum.f==='Nilo-Saharan'"}],"mark":{"type":"line","color":"#000000","strokeWidth":1.6},"encoding":{"x":{"field":"x","type":"quantitative"},"y":{"field":"y","type":"quantitative"}}}]},
{"width":150,"height":130,"title":{"text":"Otomanguean","subtitle":"slope = 0.00495"},"layer":[
{"data":{"name":"pts"},"transform":[{"filter":"datum.f==='Otomanguean'"}],"mark":{"type":"circle","size":16,"color":"#555555","opacity":0.3},"encoding":{"x":{"field":"x","type":"quantitative","scale":{"domain":[0,10],"nice":false,"zero":false},"axis":{"title":null,"labelOverlap":false,"tickCount":20,"format":"d","values":[0,2,4,6,8,10]}},"y":{"field":"y","type":"quantitative","scale":{"domain":[1,2],"nice":false,"zero":false},"axis":{"title":null,"labelOverlap":false,"tickCount":20,"values":[1,1.2,1.4,1.6,1.8,2],"format":".1f"}}}},
{"data":{"name":"fit"},"transform":[{"filter":"datum.f==='Otomanguean'"}],"mark":{"type":"line","color":"#000000","strokeWidth":1.6},"encoding":{"x":{"field":"x","type":"quantitative"},"y":{"field":"y","type":"quantitative"}}}]},
{"width":150,"height":130,"title":{"text":"Sino-Tibetan","subtitle":"slope = 0.00179"},"layer":[
{"data":{"name":"pts"},"transform":[{"filter":"datum.f==='Sino-Tibetan'"}],"mark":{"type":"circle","size":16,"color":"#555555","opacity":0.3},"encoding":{"x":{"field":"x","type":"quantitative","scale":{"domain":[0,10],"nice":false,"zero":false},"axis":{"title":"log₁₀(population)","labelOverlap":false,"tickCount":20,"format":"d","values":[0,2,4,6,8,10]}},"y":{"field":"y","type":"quantitative","scale":{"domain":[1,2],"nice":false,"zero":false},"axis":{"title":"log₁₀(phonemes)","labelOverlap":false,"tickCount":20,"values":[1,1.2,1.4,1.6,1.8,2],"format":".1f"}}}},
{"data":{"name":"fit"},"transform":[{"filter":"datum.f==='Sino-Tibetan'"}],"mark":{"type":"line","color":"#000000","strokeWidth":1.6},"encoding":{"x":{"field":"x","type":"quantitative"},"y":{"field":"y","type":"quantitative"}}}]},
{"width":150,"height":130,"title":{"text":"Trans-New Guinea","subtitle":"slope = 0.01064"},"layer":[
{"data":{"name":"pts"},"transform":[{"filter":"datum.f==='Trans-New Guinea'"}],"mark":{"type":"circle","size":16,"color":"#555555","opacity":0.3},"encoding":{"x":{"field":"x","type":"quantitative","scale":{"domain":[0,10],"nice":false,"zero":false},"axis":{"title":"log₁₀(population)","labelOverlap":false,"tickCount":20,"format":"d","values":[0,2,4,6,8,10]}},"y":{"field":"y","type":"quantitative","scale":{"domain":[1,2],"nice":false,"zero":false},"axis":{"title":null,"labelOverlap":false,"tickCount":20,"values":[1,1.2,1.4,1.6,1.8,2],"format":".1f"}}}},
{"data":{"name":"fit"},"transform":[{"filter":"datum.f==='Trans-New Guinea'"}],"mark":{"type":"line","color":"#000000","strokeWidth":1.6},"encoding":{"x":{"field":"x","type":"quantitative"},"y":{"field":"y","type":"quantitative"}}}]},
{"width":150,"height":130,"title":{"text":"Uto-Aztecan","subtitle":"slope = 0.00054"},"layer":[
{"data":{"name":"pts"},"transform":[{"filter":"datum.f==='Uto-Aztecan'"}],"mark":{"type":"circle","size":16,"color":"#555555","opacity":0.3},"encoding":{"x":{"field":"x","type":"quantitative","scale":{"domain":[0,10],"nice":false,"zero":false},"axis":{"title":"log₁₀(population)","labelOverlap":false,"tickCount":20,"format":"d","values":[0,2,4,6,8,10]}},"y":{"field":"y","type":"quantitative","scale":{"domain":[1,2],"nice":false,"zero":false},"axis":{"title":null,"labelOverlap":false,"tickCount":20,"values":[1,1.2,1.4,1.6,1.8,2],"format":".1f"}}}},
{"data":{"name":"fit"},"transform":[{"filter":"datum.f==='Uto-Aztecan'"}],"mark":{"type":"line","color":"#000000","strokeWidth":1.6},"encoding":{"x":{"field":"x","type":"quantitative"},"y":{"field":"y","type":"quantitative"}}}]}
]
}
